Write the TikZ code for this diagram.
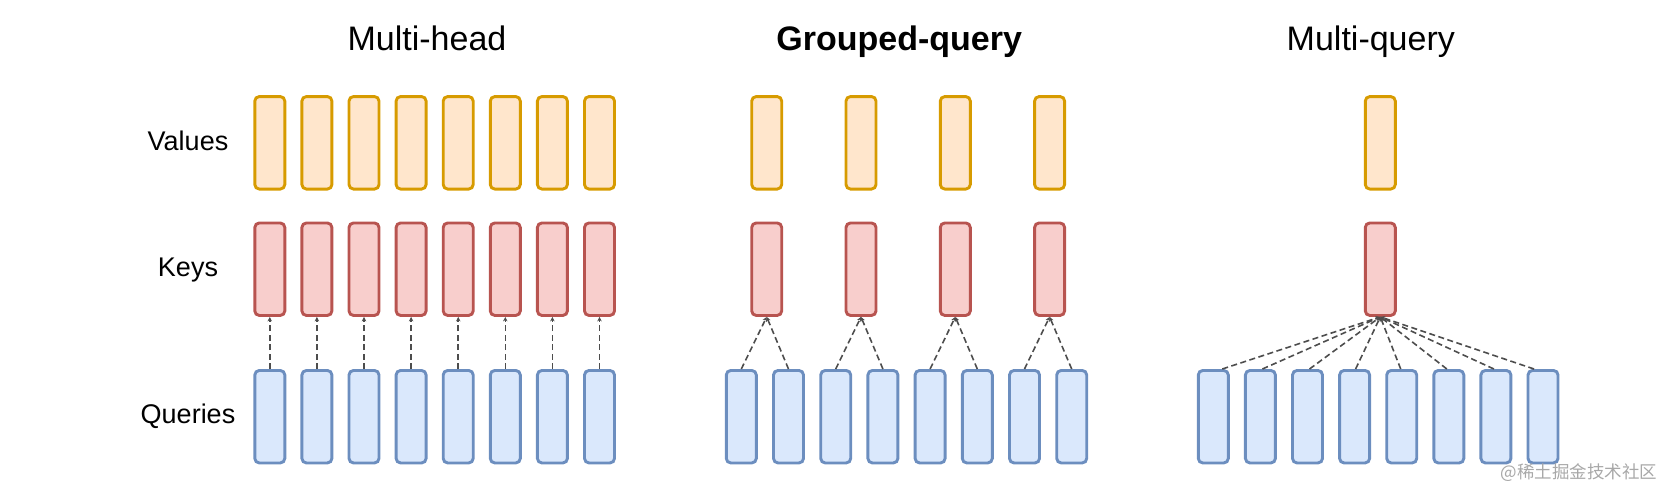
\documentclass[tikz,border=0pt]{standalone}
\usepackage{fontspec}
\setmainfont{Liberation Sans}
\newfontfamily\cjk{Noto Sans CJK SC}
\usetikzlibrary{arrows.meta}
\definecolor{valfill}{HTML}{FFE6CC}
\definecolor{valdraw}{HTML}{D79B00}
\definecolor{keyfill}{HTML}{F8CECC}
\definecolor{keydraw}{HTML}{B85450}
\definecolor{qryfill}{HTML}{DAE8FC}
\definecolor{qrydraw}{HTML}{6C8EBF}
\definecolor{conncol}{HTML}{4D4D4D}
\definecolor{wmcol}{HTML}{A8A8A8}
\begin{document}
\begin{tikzpicture}[x=1pt,y=-1pt,
  blk/.style={rounded corners=4.5pt, line width=2.9pt, minimum width=30pt, minimum height=92.5pt, inner sep=0pt},
  val/.style={blk, draw=valdraw, fill=valfill},
  key/.style={blk, draw=keydraw, fill=keyfill},
  qry/.style={blk, draw=qrydraw, fill=qryfill},
  conn/.style={draw=conncol, line width=1.6pt, dash pattern=on 6pt off 3.5pt, -{Stealth[length=4.5pt,width=4.5pt]}},
  rowlabel/.style={anchor=base, font=\fontsize{27}{32}\selectfont, text=black},
  title/.style={anchor=base, font=\fontsize{34}{40}\selectfont, text=black},
  wm/.style={anchor=base west, font=\cjk\fontsize{17.5}{20}\selectfont, text=wmcol}
]
\useasboundingbox (0,0) rectangle (1663,488);

% row labels
\node[rowlabel] (lv) at (188,150.7) {Values};
\node[rowlabel] (lk) at (188,276.7) {Keys};
\node[rowlabel] (lq) at (188,423.3) {Queries};

% titles
\node[title] (t1) at (427,50.7) {Multi-head};
\node[title, font=\fontsize{34}{40}\selectfont\bfseries] (t2) at (899.2,50.7) {Grouped-query};
\node[title] (t3) at (1370.8,50.7) {Multi-query};

% Multi-head
\foreach \i in {0,...,7} {
  \node[val] (mhv\i) at ({269.8+47.1*\i},142.8) {};
  \node[key] (mhk\i) at ({269.8+47.1*\i},269.2) {};
  \node[qry] (mhq\i) at ({269.8+47.1*\i},416.7) {};
  \draw[conn] (mhq\i.north) -- (mhk\i.south);
}

% Grouped-query
\foreach \i in {0,...,3} {
  \node[val] (gqv\i) at ({766.7+94.3*\i},142.8) {};
  \node[key] (gqk\i) at ({766.7+94.3*\i},269.2) {};
}
\foreach \i in {0,...,7} {
  \node[qry] (gqq\i) at ({741.3+47.2*\i},416.7) {};
}
\foreach \i/\k in {0/0,1/0,2/1,3/1,4/2,5/2,6/3,7/3} {
  \draw[conn] (gqq\i.north) -- (gqk\k.south);
}

% Multi-query
\node[val] (mqv) at (1380.3,142.8) {};
\node[key] (mqk) at (1380.3,269.2) {};
\foreach \i in {0,...,7} {
  \node[qry] (mqq\i) at ({1213.3+47.1*\i},416.7) {};
}
\foreach \i/\dx in {0/9,1/2,2/2,3/1,4/-1,5/-2,6/-2,7/-9} {
  \draw[conn] ([xshift=\dx pt]mqq\i.north) -- (mqk.south);
}

% watermark
\node[wm] (wmk) at (1497,478) {@稀土掘金技术社区};
\end{tikzpicture}
\end{document}
